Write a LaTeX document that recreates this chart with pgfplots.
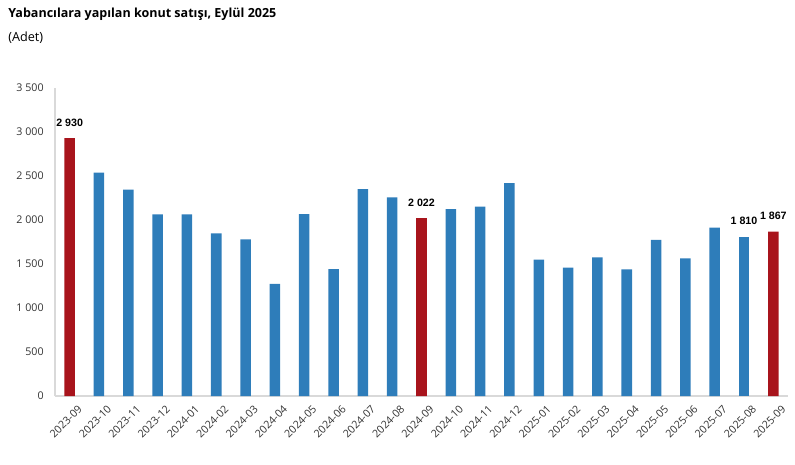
\documentclass[border=0pt]{standalone}
\usepackage{pgfplots}
\pgfplotsset{compat=1.18}
\usepackage{fontspec}
\setmainfont{Open Sans}
\newfontfamily\arialfont{Liberation Sans}
\definecolor{barblue}{RGB}{46,125,186}
\definecolor{barred}{RGB}{168,20,28}
\definecolor{axgray}{RGB}{217,217,217}
\begin{document}
\begin{tikzpicture}
\path[use as bounding box] (0pt,0pt) rectangle (596.25pt,348pt);
\node[anchor=west, inner sep=0pt, font=\bfseries\fontsize{9.4}{11}\selectfont] at (6pt,337.5pt) {Yabancılara yapılan konut satışı, Eylül 2025};
\node[anchor=west, inner sep=0pt, font=\fontsize{9.5}{11}\selectfont] at (6pt,319.5pt) {(Adet)};
\begin{axis}[
  at={(41.25pt,51pt)}, anchor=south west,
  scale only axis, width=549.75pt, height=231pt,
  ybar, bar width=7.9pt, bar shift=0pt,
  xmin=-0.5, xmax=24.5, ymin=0, ymax=3500,
  xtick={0,...,24},
  xticklabels={2023-09,2023-10,2023-11,2023-12,2024-01,2024-02,2024-03,2024-04,2024-05,2024-06,2024-07,2024-08,2024-09,2024-10,2024-11,2024-12,2025-01,2025-02,2025-03,2025-04,2025-05,2025-06,2025-07,2025-08,2025-09},
  ytick={0,500,...,3500},
  axis lines*=left,
  axis line style={axgray, line width=0.8pt},
  major tick length=0pt,
  clip=false,
  /pgf/number format/1000 sep={\ },
  /pgf/number format/assume math mode=true,
  yticklabel style={font=\fontsize{8}{10}\selectfont, text=black!80, xshift=-5pt},
  xticklabel style={font=\fontsize{8}{10}\selectfont, text=black!80, rotate=45, anchor=north east, xshift=3pt, yshift=-5pt},
  nodes near coords style={font=\arialfont\bfseries\fontsize{8}{10}\selectfont, anchor=center, yshift=11.6pt},
]
\addplot[fill=barblue, draw=none] coordinates {
 (1,2538) (2,2345) (3,2064) (4,2064) (5,1848) (6,1780) (7,1273) (8,2068) (9,1443) (10,2352) (11,2258)
 (13,2125) (14,2152) (15,2420) (16,1549) (17,1458) (18,1576) (19,1439) (20,1773) (21,1565) (22,1913)
};
\addplot[fill=barblue, draw=none, nodes near coords={\pgfmathprintnumber[1000 sep={\ }]{\pgfplotspointmeta}}] coordinates {
 (23,1810)
};
\addplot[fill=barred, draw=none, nodes near coords={\pgfmathprintnumber[1000 sep={\ }]{\pgfplotspointmeta}}] coordinates {
 (0,2930) (12,2022) (24,1867)
};
\end{axis}
\end{tikzpicture}
\end{document}
